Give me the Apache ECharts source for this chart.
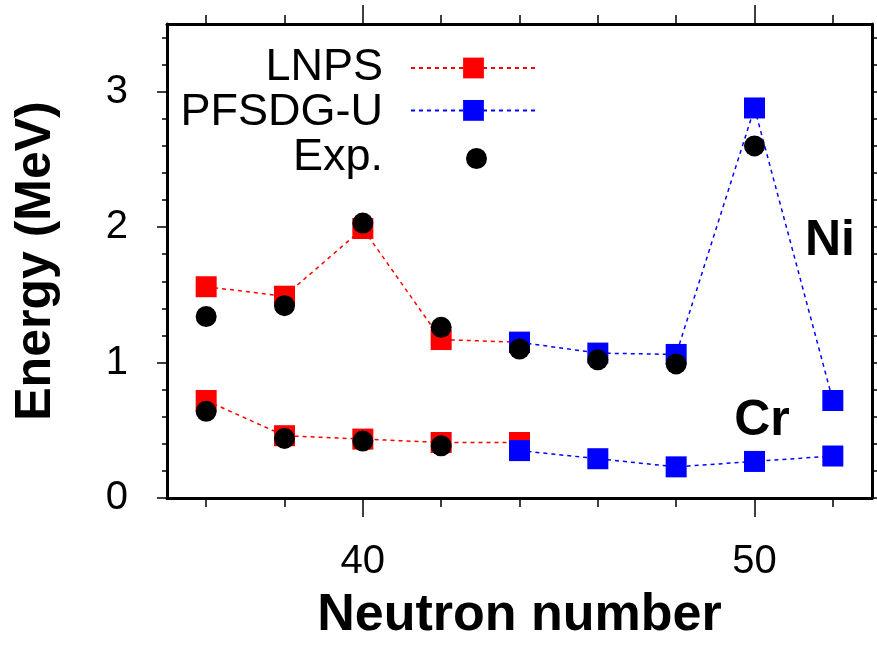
<!DOCTYPE html>
<html><head><meta charset="utf-8">
<script src="https://cdn.jsdelivr.net/npm/echarts@6/dist/echarts.min.js"></script>
<style>html,body{margin:0;padding:0;background:#fff}#c{width:877px;height:656px}</style>
</head><body><div id="c"></div>
<script>
// ---- data ----
const neutronLNPS = [36, 38, 40, 42, 44];
const neutronPFSDG = [44, 46, 48, 50, 52];
const neutronExpNi = [36, 38, 40, 42, 44, 46, 48, 50];
const neutronExpCr = [36, 38, 40, 42];
const lnpsNi = [1.56, 1.49, 1.99, 1.17, 1.15];
const lnpsCr = [0.72, 0.46, 0.435, 0.41, 0.41];
const pfsdgNi = [1.15, 1.07, 1.06, 2.88, 0.72];
const pfsdgCr = [0.35, 0.29, 0.23, 0.27, 0.31];
const expNi = [1.34, 1.42, 2.03, 1.26, 1.10, 1.02, 0.99, 2.60];
const expCr = [0.64, 0.44, 0.42, 0.385];
const xMajorTicks = [40, 50];
const xMinorTicks = [36, 38, 42, 44, 46, 48, 52];
const yMajorTicks = [0, 1, 2, 3];
const yMinorTicks = [0.2, 0.4, 0.6, 0.8, 1.2, 1.4, 1.6, 1.8, 2.2, 2.4, 2.6, 2.8, 3.2, 3.4];
const seriesNames = ['LNPS', 'PFSDG-U', 'Exp.'];
const xName = 'Neutron number';
const yName = 'Energy (MeV)';

// ---- chart ----
const FONT = '"Liberation Sans", Arial, Helvetica, sans-serif';
const pair = (xs, ys) => xs.map((x, i) => [x, ys[i]]);
const RED = '#ff0000', BLUE = '#0000ff';

function xAxisDef(position, major, labels) {
  const ticks = major ? xMajorTicks : xMinorTicks;
  return {
    type: 'value', position: position, min: 35, max: 53,
    axisLine: { show: major, onZero: false, lineStyle: { color: '#000', width: 3 } },
    axisTick: { show: true, customValues: ticks, length: major ? 19 : 9, lineStyle: { color: '#000', width: 1.5 } },
    axisLabel: { show: labels, customValues: ticks, fontSize: 40, fontFamily: FONT, color: '#000', margin: 44 },
    splitLine: { show: false },
    name: labels ? xName : '', nameLocation: 'middle', nameGap: 92,
    nameTextStyle: { fontSize: 52, fontWeight: 'bold', fontFamily: FONT, color: '#000' }
  };
}
function yAxisDef(position, major, labels) {
  const ticks = major ? yMajorTicks : yMinorTicks;
  return {
    type: 'value', position: position, min: 0, max: 3.5,
    axisLine: { show: major, onZero: false, lineStyle: { color: '#000', width: 3 } },
    axisTick: { show: true, customValues: ticks, length: major ? 10 : 5, lineStyle: { color: '#000', width: 1.5 } },
    axisLabel: { show: labels, customValues: ticks, fontSize: 40, fontFamily: FONT, color: '#000', margin: 39 },
    splitLine: { show: false },
    name: labels ? yName : '', nameLocation: 'middle', nameGap: 106,
    nameTextStyle: { fontSize: 50, fontWeight: 'bold', fontFamily: FONT, color: '#000' }
  };
}

function lineSeries(name, xs, ys, color) {
  return {
    name: name, type: 'line', data: pair(xs, ys), symbol: 'rect', symbolSize: 21, z: 2,
    itemStyle: { color: color }, lineStyle: { color: color, width: 1.5, type: [4, 4] },
    xAxisIndex: 0, yAxisIndex: 0, emphasis: { disabled: true }
  };
}
function expSeries(xs, ys) {
  return {
    name: seriesNames[2], type: 'scatter', data: pair(xs, ys), symbol: 'circle', symbolSize: 21, z: 5,
    itemStyle: { color: '#000', opacity: 1 }, xAxisIndex: 0, yAxisIndex: 0, emphasis: { disabled: true }
  };
}

const legendCommon = {
  orient: 'vertical', align: 'right', padding: 0, itemWidth: 125,
  selectedMode: false, formatter: function () { return ''; },
  textStyle: { fontSize: 10, color: '#000' }
};
const legendTextStyle = { fontSize: 45, fontFamily: FONT, fill: '#000', align: 'right', verticalAlign: 'middle' };

const chart = echarts.init(document.getElementById('c'), null, { renderer: 'canvas' });
chart.setOption({
  animation: false,
  backgroundColor: '#fff',
  grid: { left: 167, right: 5, top: 24, bottom: 158, containLabel: false, outerBoundsMode: 'none' },
  xAxis: [
    xAxisDef('bottom', true, true),
    xAxisDef('bottom', false, false),
    xAxisDef('top', true, false),
    xAxisDef('top', false, false)
  ],
  yAxis: [
    yAxisDef('left', true, true),
    yAxisDef('left', false, false),
    yAxisDef('right', true, false),
    yAxisDef('right', false, false)
  ],
  legend: [
    Object.assign({}, legendCommon, {
      data: [seriesNames[0], seriesNames[1]], right: 340, top: 55, itemHeight: 26, itemGap: 19
    }),
    Object.assign({}, legendCommon, {
      data: [seriesNames[2]], right: 390, top: 148, itemHeight: 21
    })
  ],
  graphic: [
    { type: 'text', x: 383, y: 68, style: Object.assign({ text: seriesNames[0] }, legendTextStyle) },
    { type: 'text', x: 383, y: 113, style: Object.assign({ text: seriesNames[1] }, legendTextStyle) },
    { type: 'text', x: 383, y: 158, style: Object.assign({ text: seriesNames[2] }, legendTextStyle) },
    { type: 'text', x: 830, y: 241, style: { text: 'Ni', fontSize: 50, fontWeight: 'bold', fontFamily: FONT, fill: '#000', align: 'center', verticalAlign: 'middle' } },
    { type: 'text', x: 762, y: 421, style: { text: 'Cr', fontSize: 50, fontWeight: 'bold', fontFamily: FONT, fill: '#000', align: 'center', verticalAlign: 'middle' } }
  ],
  series: [
    lineSeries(seriesNames[0], neutronLNPS, lnpsNi, RED),
    lineSeries(seriesNames[0], neutronLNPS, lnpsCr, RED),
    lineSeries(seriesNames[1], neutronPFSDG, pfsdgNi, BLUE),
    lineSeries(seriesNames[1], neutronPFSDG, pfsdgCr, BLUE),
    expSeries(neutronExpNi, expNi),
    expSeries(neutronExpCr, expCr)
  ]
});
</script>
</body></html>
